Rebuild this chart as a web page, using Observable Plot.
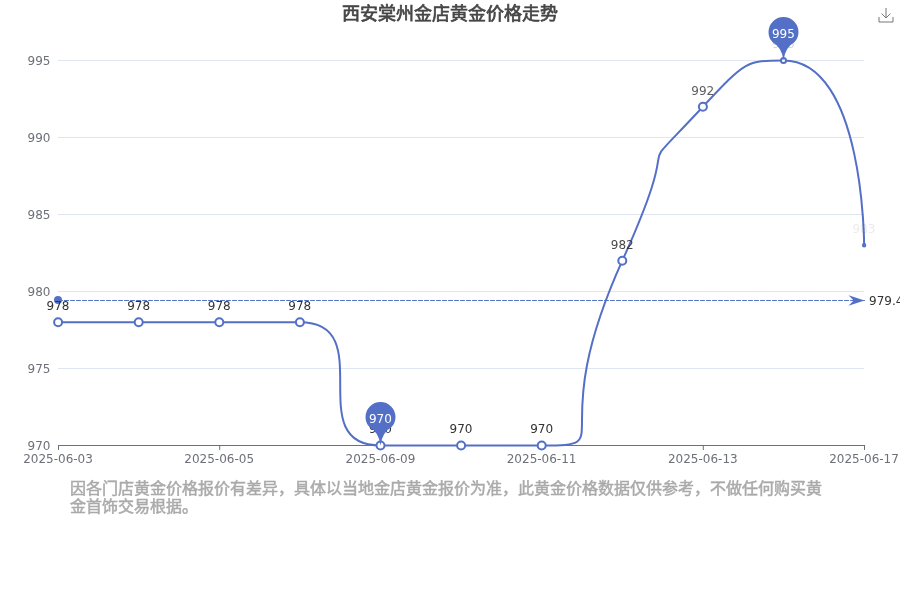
<!DOCTYPE html>
<html lang="zh">
<head>
<meta charset="utf-8">
<script src="https://cdn.jsdelivr.net/npm/d3@7"></script>
<script src="https://cdn.jsdelivr.net/npm/@observablehq/plot@0.6"></script>
<style>
html,body{margin:0;padding:0;background:#fff;width:900px;height:600px;overflow:hidden}
#wrap{position:relative;width:900px;height:600px;will-change:transform}
#title{position:absolute;left:0;top:0;width:900px;text-align:center;font:normal 18px/24px "Noto Sans CJK TC","DejaVu Sans",sans-serif;color:#464646;-webkit-text-stroke:0.7px #464646}
#icon{position:absolute;left:878px;top:7px}
#chart{position:absolute;left:0;top:0}
#note{position:absolute;left:70px;top:478px;width:760px;font:normal 16px/18px "Noto Sans CJK TC","DejaVu Sans",sans-serif;color:#aaa;-webkit-text-stroke:0.5px #aaa}
</style>
</head>
<body>
<div id="wrap">
<div id="chart"></div>
<div id="title">西安棠州金店黄金价格走势</div>
<svg id="icon" width="16" height="16" viewBox="0 0 16 16" fill="none" stroke="#777" stroke-width="1"><path d="M1 10V15H15V10M8 1V11M3.5 6.5L8 11L12.5 6.5"/></svg>
<div id="note">因各门店黄金价格报价有差异，具体以当地金店黄金报价为准，此黄金价格数据仅供参考，不做任何购买黄金首饰交易根据。</div>
</div>
<script>
const dates = ["2025-06-03","2025-06-04","2025-06-05","2025-06-06","2025-06-09","2025-06-10","2025-06-11","2025-06-12","2025-06-13","2025-06-16","2025-06-17"];
const prices = [978,978,978,978,970,970,970,982,992,995,983];
const tickDates = ["2025-06-03","2025-06-05","2025-06-09","2025-06-11","2025-06-13","2025-06-17"];
const yTicks = [970,975,980,985,990,995];
const markRadius = [4,4,4,4,4,4,4,4,4,2.5,1.2];
const labelOpacity = [1,1,1,1,1,1,1,0.9,0.8,0.2,0.1];
const pinDates = ["2025-06-09","2025-06-16"];
const pinValues = [970,995];
const meanValue = 979.4;
const meanDates = ["2025-06-03","2025-06-17"];

const blue = "#5470C6";
const rows = dates.map((date,i)=>({date,price:prices[i],r:markRadius[i],o:labelOpacity[i]}));
const pins = pinDates.map((date,i)=>({date,price:pinValues[i]}));
const mean = meanDates.map(date=>({date,price:meanValue}));

// Same control-point construction as a fully smoothed line (smooth = 1)
function smoothCurve(ctx){
  let pts;
  const clamp=(v,a,b)=>Math.max(Math.min(v,Math.max(a,b)),Math.min(a,b));
  return {
    areaStart(){},areaEnd(){},
    lineStart(){pts=[]},
    point(x,y){pts.push([+x,+y])},
    lineEnd(){
      let cx0,cy0;
      pts.forEach(([x,y],i)=>{
        if(i===0){ctx.moveTo(x,y);cx0=x;cy0=y;return;}
        const [px,py]=pts[i-1];
        let cx1=x,cy1=y,nx=x,ny=y;
        if(i<pts.length-1){
          const [qx,qy]=pts[i+1];
          const lp=Math.hypot(x-px,y-py),ln=Math.hypot(qx-x,qy-y),ratio=ln/(ln+lp);
          nx=clamp(x+(qx-px)*ratio,qx,x);ny=clamp(y+(qy-py)*ratio,qy,y);
          cx1=clamp(x-(nx-x)*lp/ln,px,x);cy1=clamp(y-(ny-y)*lp/ln,py,y);
          nx=x+(x-cx1)*ln/lp;ny=y+(y-cy1)*ln/lp;
        }
        ctx.bezierCurveTo(cx0,cy0,cx1,cy1,x,y);
        cx0=nx;cy0=ny;
      });
    }
  };
}
const pinSymbol={draw(c,size){
  const r=Math.sqrt(size/Math.PI);
  const cy=-r*1.9, a=Math.PI*0.25;
  const sx=r*Math.sin(a), sy=cy+r*Math.cos(a);
  c.moveTo(0,0);
  c.quadraticCurveTo(-r*0.12,sy+r*0.3,-sx,sy);
  c.arc(0,cy,r,Math.PI/2+a,Math.PI/2-a+Math.PI*2);
  c.quadraticCurveTo(r*0.12,sy+r*0.3,0,0);
  c.closePath();
}};
const arrowSymbol={draw(c,size){
  const r=Math.sqrt(size/Math.PI);
  c.moveTo(0,0);c.lineTo(-r*2,-r*0.65);c.lineTo(-r*1.35,0);c.lineTo(-r*2,r*0.65);c.closePath();
}};

const plot=Plot.plot({
  width:900,height:478,
  marginLeft:58,marginRight:36,marginTop:60,marginBottom:33,
  style:{fontFamily:'"DejaVu Sans",sans-serif',fontSize:"12px",background:"transparent",overflow:"visible"},
  x:{type:"point",domain:dates,padding:0,round:false,label:null},
  y:{domain:[970,995],label:null},
  r:{type:"identity"},
  marks:[
    Plot.ruleY(yTicks.slice(1),{stroke:"#E0E6F1",strokeWidth:1}),
    Plot.ruleY([970],{stroke:"#6E7079",strokeWidth:1}),
    Plot.axisX({ticks:tickDates,tickSize:5,text:null,stroke:"#6E7079",label:null}),
    Plot.axisX({ticks:tickDates,tickSize:0,tickPadding:9,dx:-0.5,fill:"#6E7079",fontSize:12,label:null}),
    Plot.axisY({ticks:yTicks,tickSize:0,tickPadding:8,dy:0.5,fill:"#6E7079",fontSize:12,label:null}),
    Plot.line(mean,{x:"date",y:"price",stroke:blue,strokeWidth:1,strokeDasharray:"4 2",dy:-0.24}),
    Plot.dot(mean.slice(0,1),{x:"date",y:"price",r:4,fill:blue,dx:-0.5,dy:-0.7}),
    Plot.dot(mean.slice(1),{x:"date",y:"price",r:8,symbol:arrowSymbol,fill:blue,dy:-0.24}),
    Plot.text(mean.slice(1),{x:"date",y:"price",text:d=>String(d.price),dx:4.5,textAnchor:"start",fill:"#333",fontSize:12}),
    Plot.line(rows,{x:"date",y:"price",stroke:blue,strokeWidth:2,curve:smoothCurve,dx:-0.4}),
    Plot.dot(rows,{x:"date",y:"price",r:"r",fill:"#fff",stroke:blue,strokeWidth:2,dx:-0.4}),
    Plot.text(rows,{x:"date",y:"price",text:d=>String(d.price),dx:-0.5,dy:-16,fill:"#333",fillOpacity:"o",fontSize:12}),
    Plot.dot(pins,{x:"date",y:"price",r:15,symbol:pinSymbol,fill:blue,dx:-0.4}),
    Plot.text(pins,{x:"date",y:"price",text:d=>String(d.price),dx:-0.5,dy:-26.5,fill:"#fff",fontSize:12})
  ]
});
document.getElementById("chart").append(plot);
</script>
</body>
</html>
